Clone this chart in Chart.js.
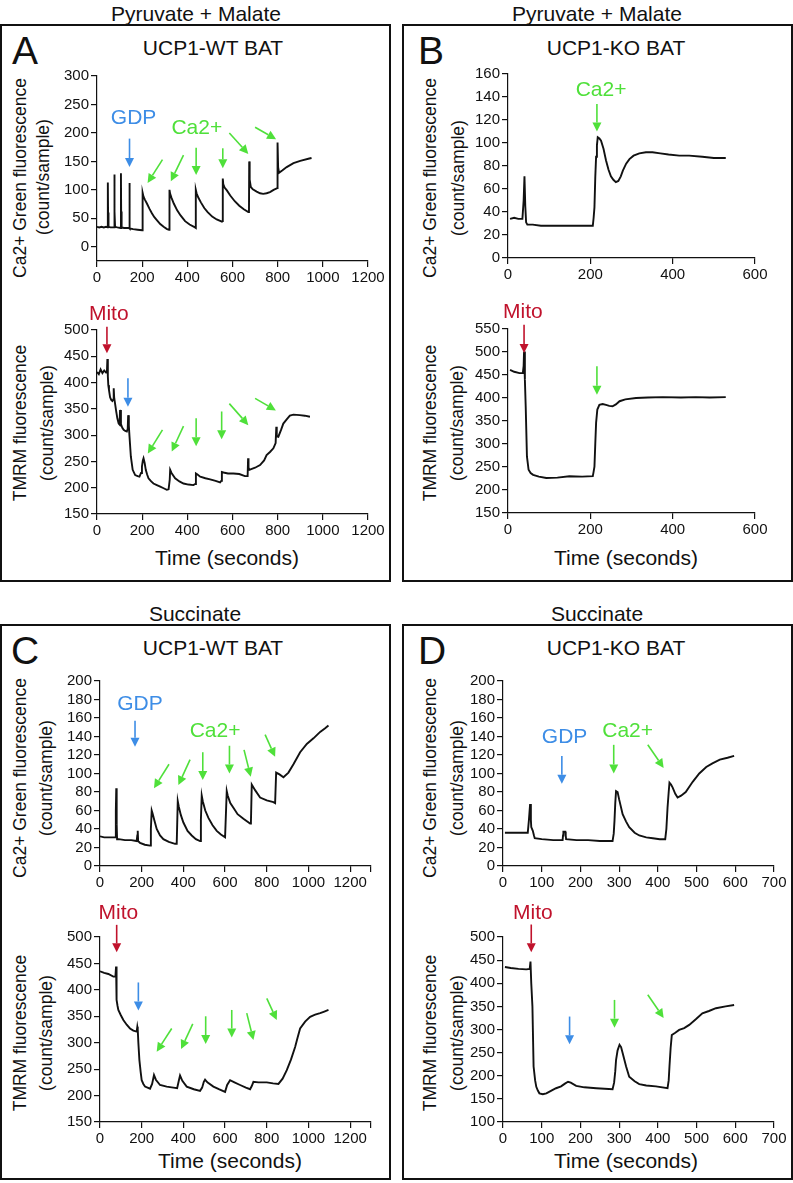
<!DOCTYPE html>
<html>
<head>
<meta charset="utf-8">
<script src="https://cdn.jsdelivr.net/npm/chart.js@4.4.1/dist/chart.umd.min.js"></script>
<style>
  body { margin: 0; background: #fff; }
  #page { position: relative; width: 793px; height: 1183px; overflow: hidden;
          font-family: "Liberation Sans", Arial, Helvetica, sans-serif; color: #111; }
  .box { position: absolute; border: 2.5px solid #111; box-sizing: border-box; }
  .txt { position: absolute; white-space: nowrap; line-height: 1; transform: translate(-50%, -50%); }
  .rot { transform: translate(-50%, -50%) rotate(-90deg); }
  canvas { position: absolute; }
</style>
</head>
<body>
<div id="page"></div>
<script>
// ---- A: pyruvate + malate, UCP1-WT ----
const aCaTime = [
  0, 10, 20, 30, 40, 47, 48, 49, 51, 60,
  76, 77, 78, 80, 90, 105, 106, 107, 109, 120,
  142, 143, 144, 146, 160, 180, 200, 202, 206, 213,
  221, 232, 243, 254, 265, 280, 295, 310, 319, 321,
  324, 330, 340, 355, 370, 390, 410, 434, 437, 438,
  441, 448, 460, 475, 490, 510, 530, 553, 556, 557,
  559, 565, 575, 590, 610, 630, 650, 670, 673, 674,
  676, 681, 690, 707, 722, 736, 751, 766, 782, 798,
  799, 800, 802, 806, 820, 840, 870, 900, 940, 950];
const aCaValue = [
  35, 34, 35, 34, 35, 34, 113, 60, 35, 34,
  34, 127, 62, 35, 34, 33, 129, 62, 34, 33,
  33, 112, 58, 32, 31, 30, 29, 95, 88, 82,
  76, 67, 59, 52, 47, 40, 35, 31, 30, 100,
  93, 86, 76, 64, 55, 45, 39, 34, 33, 100,
  94, 87, 78, 68, 61, 53, 48, 44, 45, 120,
  110, 104, 99, 90, 80, 72, 66, 61, 62, 150,
  118, 105, 101, 97, 94, 93, 94, 96, 100, 103,
  104, 183, 140, 130, 134, 140, 147, 151, 155, 156];
const aTmrmTime = [
  0, 8, 16, 24, 32, 40, 44, 46, 48, 50,
  53, 58, 63, 68, 72, 74, 76, 80, 85, 90,
  96, 100, 102, 106, 112, 118, 125, 132, 136, 138,
  141, 144, 150, 158, 169, 180, 188, 195, 199, 203,
  206, 211, 216, 222, 228, 240, 250, 265, 280, 295,
  309, 317, 322, 324, 330, 346, 365, 383, 405, 427,
  435, 438, 445, 457, 480, 501, 525, 545, 550, 553,
  560, 580, 604, 630, 655, 667, 669, 671, 675, 680,
  700, 722, 740, 751, 766, 781, 791, 794, 796, 803,
  815, 825, 840, 854, 870, 898, 920, 943];
const aTmrmValue = [
  420, 416, 425, 418, 423, 419, 421, 445, 412, 395,
  386, 372, 367, 365, 368, 389, 372, 360, 345, 332,
  322, 320, 348, 321, 314, 310, 308, 307, 312, 338,
  318, 297, 259, 234, 224, 222, 221, 228, 240, 252,
  256, 247, 234, 225, 218, 212, 208, 205, 202, 199,
  196, 197, 215, 234, 228, 218, 212, 208, 206, 205,
  207, 227, 225, 221, 218, 216, 213, 210, 213, 230,
  229, 227, 227, 226, 222, 222, 256, 238, 234, 235,
  238, 243, 252, 262, 268, 275, 285, 316, 298, 297,
  310, 322, 330, 337, 339, 338, 337, 335];

// ---- B: pyruvate + malate, UCP1-KO ----
const bCaTime = [
  5, 15, 25, 35, 38, 40, 42, 44, 47, 60,
  80, 100, 120, 140, 160, 180, 200, 206, 208, 210,
  212, 214, 216, 218, 222, 226, 232, 238, 244, 250,
  256, 262, 268, 274, 279, 287, 295, 305, 319, 335,
  351, 370, 390, 416, 440, 472, 500, 529];
const bCaValue = [
  34, 35, 34, 34, 50, 71, 45, 31, 29, 29,
  28, 28, 28, 28, 28, 28, 28, 28, 35, 44,
  70, 88, 98, 105, 104, 102, 95, 85, 77, 71,
  68, 66, 67, 71, 76, 82, 86, 89, 91, 92,
  92, 91, 90, 89, 89, 88, 87, 87];
const bTmrmTime = [
  5, 15, 28, 36, 38, 39, 41, 43, 46, 50,
  55, 61, 75, 93, 120, 149, 180, 206, 208, 210,
  212, 214, 217, 222, 230, 238, 246, 254, 262, 271,
  285, 311, 340, 376, 420, 456, 490, 529];
const bTmrmValue = [
  461, 457, 454, 454, 470, 501, 440, 382, 273, 244,
  237, 233, 229, 226, 227, 230, 229, 230, 240, 251,
  300, 346, 375, 385, 387, 385, 383, 382, 386, 393,
  397, 400, 401, 402, 401, 402, 401, 402];

// ---- C: succinate, UCP1-WT ----
const cCaTime = [
  0, 20, 40, 60, 72, 76, 78, 80, 82, 90,
  120, 150, 176, 179, 181, 183, 192, 215, 240, 244,
  248, 252, 260, 272, 288, 304, 330, 360, 368, 373,
  378, 388, 400, 420, 440, 460, 480, 484, 488, 493,
  505, 520, 540, 560, 580, 600, 604, 608, 613, 625,
  640, 660, 688, 720, 724, 728, 744, 768, 800, 832,
  840, 845, 861, 880, 904, 928, 960, 992, 1024, 1056,
  1080, 1096];
const cCaValue = [
  32, 31, 31, 31, 31, 60, 84, 45, 29, 29,
  28, 28, 27, 33, 38, 27, 25, 23, 22, 40,
  60, 57, 50, 40, 33, 29, 26, 24, 24, 70,
  64, 55, 47, 38, 33, 29, 27, 50, 76, 70,
  60, 52, 44, 38, 34, 31, 31, 81, 76, 68,
  63, 56, 51, 46, 47, 88, 82, 74, 71, 69,
  68, 101, 99, 96, 101, 110, 123, 132, 138, 145,
  149, 152];
const cTmrmTime = [
  0, 20, 40, 64, 74, 77, 79, 80, 84, 88,
  100, 112, 128, 144, 160, 176, 179, 181, 184, 189,
  195, 200, 208, 216, 240, 250, 259, 268, 288, 320,
  352, 370, 378, 384, 395, 416, 450, 480, 490, 498,
  504, 515, 544, 570, 600, 610, 624, 645, 672, 700,
  720, 728, 736, 760, 800, 830, 856, 876, 896, 916,
  936, 948, 960, 984, 1008, 1032, 1056, 1076, 1096];
const cTmrmValue = [
  435, 432, 430, 425, 425, 444, 400, 381, 370, 362,
  352, 343, 334, 327, 323, 321, 330, 325, 300, 267,
  245, 229, 222, 217, 213, 222, 239, 230, 220, 217,
  215, 214, 228, 238, 228, 217, 212, 209, 215, 226,
  230, 225, 217, 212, 207, 220, 229, 225, 220, 215,
  212, 218, 226, 225, 225, 223, 222, 232, 248, 268,
  292, 310, 327, 340, 349, 353, 356, 359, 362];

// ---- D: succinate, UCP1-KO ----
const dCaTime = [
  5, 20, 40, 64, 67, 70, 72, 73, 77, 80,
  82, 100, 130, 154, 155, 156, 161, 162, 163, 190,
  220, 250, 283, 286, 288, 290, 292, 296, 300, 309,
  318, 326, 340, 352, 370, 387, 405, 419, 422, 425,
  428, 430, 434, 438, 445, 451, 460, 472, 490, 507,
  525, 541, 560, 580, 597];
const dCaValue = [
  36, 36, 36, 36, 50, 67, 50, 42, 38, 33,
  30, 29, 28, 28, 33, 37, 37, 33, 29, 28,
  28, 27, 27, 35, 49, 68, 81, 80, 72, 56,
  48, 42, 36, 33, 31, 30, 29, 29, 40, 63,
  80, 90, 88, 85, 78, 74, 76, 80, 91, 100,
  107, 111, 115, 117, 119];
const dTmrmTime = [
  5, 20, 40, 60, 69, 71, 73, 76, 79, 83,
  86, 90, 94, 103, 112, 125, 137, 150, 160, 168,
  175, 189, 210, 241, 283, 287, 290, 292, 296, 301,
  305, 309, 318, 326, 340, 352, 370, 395, 425, 428,
  430, 433, 436, 445, 455, 468, 481, 498, 515, 532,
  550, 575, 597];
const dTmrmValue = [
  435, 433, 431, 430, 431, 447, 400, 350, 220, 190,
  176, 168, 162, 160, 162, 168, 173, 177, 183, 187,
  185, 178, 175, 173, 171, 185, 210, 234, 255, 267,
  262, 249, 220, 198, 188, 182, 179, 177, 173, 190,
  220, 260, 288, 293, 299, 303, 310, 322, 335, 340,
  346, 350, 353];

// ---- tick values ----
const aCaYTicks = [0, 50, 100, 150, 200, 250, 300];
const aTmrmYTicks = [150, 200, 250, 300, 350, 400, 450, 500];
const aXTicks = [0, 200, 400, 600, 800, 1000, 1200];
const bCaYTicks = [0, 20, 40, 60, 80, 100, 120, 140, 160];
const bTmrmYTicks = [150, 200, 250, 300, 350, 400, 450, 500, 550];
const bXTicks = [0, 200, 400, 600];
const cCaYTicks = [0, 20, 40, 60, 80, 100, 120, 140, 160, 180, 200];
const cTmrmYTicks = [150, 200, 250, 300, 350, 400, 450, 500];
const cXTicks = [0, 200, 400, 600, 800, 1000, 1200, 1300];
const cXTickLabels = ['0', '200', '400', '600', '800', '1000', '1200', ''];
const dCaYTicks = [0, 20, 40, 60, 80, 100, 120, 140, 160, 180, 200];
const dTmrmYTicks = [100, 150, 200, 250, 300, 350, 400, 450, 500];
const dXTicks = [0, 100, 200, 300, 400, 500, 600, 700];

// ---- additions: [kind, fromTime, fromValue, toTime, toValue] ----
const aCaArrows = [
  ['gdp', 144, 190, 144, 140],
  ['ca', 290, 153, 224, 112], ['ca', 383, 161, 327, 115], ['ca', 439, 174, 439, 126],
  ['ca', 557, 173, 557, 138], ['ca', 586, 200, 670, 163], ['ca', 700, 210, 793, 189]];
const aCaLabels = [['gdp', 'GDP', 162, 225], ['ca', 'Ca2+', 442, 208]];
const aTmrmArrows = [
  ['mito', 44, 506, 44, 456], ['gdp', 137, 408, 137, 354],
  ['ca', 290, 310, 225, 265], ['ca', 383, 317, 331, 269], ['ca', 439, 332, 439, 279],
  ['ca', 552, 345, 552, 292], ['ca', 586, 360, 670, 319], ['ca', 700, 370, 792, 347]];
const aTmrmLabels = [['mito', 'Mito', 52, 530]];
const bCaArrows = [['ca', 216, 134, 216, 110]];
const bCaLabels = [['ca', 'Ca2+', 226, 146]];
const bTmrmArrows = [['mito', 39, 559, 39, 498], ['ca', 216, 469, 216, 407]];
const bTmrmLabels = [['mito', 'Mito', 36, 586]];
const cCaArrows = [
  ['gdp', 168, 157, 168, 129],
  ['ca', 331, 110, 259, 84], ['ca', 432, 115, 376, 87.5], ['ca', 493, 123, 493, 93],
  ['ca', 621, 130, 621, 100], ['ca', 691, 125.5, 723, 96.6], ['ca', 792, 142, 840, 118]];
const cCaLabels = [['gdp', 'GDP', 192, 175], ['ca', 'Ca2+', 552, 146]];
const cTmrmArrows = [
  ['mito', 80, 523, 80, 471], ['gdp', 184, 414, 184, 361],
  ['ca', 344, 327, 272, 283], ['ca', 445, 335.5, 389, 288], ['ca', 507, 350, 507, 297.5],
  ['ca', 632, 362, 632, 310], ['ca', 704, 356, 736, 305], ['ca', 800, 384, 848, 343]];
const cTmrmLabels = [['mito', 'Mito', 88, 545]];
const dCaArrows = [['gdp', 152, 119, 152, 89], ['ca', 286, 131, 286, 100], ['ca', 374, 131, 415, 106]];
const dCaLabels = [['gdp', 'GDP', 159, 139], ['ca', 'Ca2+', 322, 146]];
const dTmrmArrows = [
  ['mito', 73, 527, 73, 467], ['gdp', 172, 328, 172, 268],
  ['ca', 288, 364, 288, 304], ['ca', 374, 375, 415, 325]];
const dTmrmLabels = [['mito', 'Mito', 77, 552]];

const FONT = '"Liberation Sans", Arial, Helvetica, sans-serif';
const COLORS = { ca: '#4fe03a', gdp: '#3d8de6', mito: '#c0122c' };
const page = document.getElementById('page');

function addText(text, cx, cy, size, rotated) {
  const d = document.createElement('div');
  d.className = rotated ? 'txt rot' : 'txt';
  d.textContent = text;
  d.style.left = cx + 'px';
  d.style.top = cy + 'px';
  d.style.fontSize = size + 'px';
  page.appendChild(d);
}

function addBox(left, top, w, h) {
  const d = document.createElement('div');
  d.className = 'box';
  Object.assign(d.style, { left: left + 'px', top: top + 'px', width: w + 'px', height: h + 'px' });
  page.appendChild(d);
}

// arrows and their labels, placed in data units through the chart scales
function marks(arrows, labels) {
  return {
    id: 'marks',
    afterDatasetsDraw(chart) {
      const { ctx } = chart;
      const sx = chart.scales.x, sy = chart.scales.y;
      ctx.save();
      arrows.forEach(([kind, t1, v1, t2, v2]) => {
        const x1 = sx.getPixelForValue(t1), y1 = sy.getPixelForValue(v1);
        const x2 = sx.getPixelForValue(t2), y2 = sy.getPixelForValue(v2);
        const ang = Math.atan2(y2 - y1, x2 - x1);
        const hl = 9, hw = 4.5;
        const bx = x2 - hl * Math.cos(ang), by = y2 - hl * Math.sin(ang);
        ctx.strokeStyle = ctx.fillStyle = COLORS[kind];
        ctx.lineWidth = 1.6;
        ctx.beginPath(); ctx.moveTo(x1, y1); ctx.lineTo(bx, by); ctx.stroke();
        ctx.beginPath(); ctx.moveTo(x2, y2);
        ctx.lineTo(bx + hw * Math.sin(ang), by - hw * Math.cos(ang));
        ctx.lineTo(bx - hw * Math.sin(ang), by + hw * Math.cos(ang));
        ctx.closePath(); ctx.fill();
      });
      ctx.font = '21px ' + FONT;
      ctx.textAlign = 'center';
      ctx.textBaseline = 'middle';
      labels.forEach(([kind, text, t, v]) => {
        ctx.fillStyle = COLORS[kind];
        ctx.fillText(text, sx.getPixelForValue(t), sy.getPixelForValue(v));
      });
      ctx.restore();
    }
  };
}

function axis(pos, min, max, ticks, tickLabels, size) {
  return {
    type: 'linear', position: pos, min, max,
    afterBuildTicks: s => { s.ticks = ticks.map(v => ({ value: v })); },
    afterFit: s => { if (pos === 'left') s.width = size; else s.height = size; },
    ticks: {
      font: { family: FONT, size: 15 }, color: '#111', padding: 2,
      maxRotation: 0, autoSkip: false,
      callback: (v, i) => tickLabels ? tickLabels[i] : String(v)
    },
    grid: { drawOnChartArea: false, drawTicks: true, tickLength: 6, color: '#111', lineWidth: 1.2 },
    border: { display: true, color: '#111', width: 1.2 }
  };
}

// box = canvas [left, top, right, bottom], area = plot area, both in page pixels
function plot(box, area, time, value, xr, xTicks, xLabels, yr, yTicks, arrows, labels) {
  const c = document.createElement('canvas');
  c.width = box[2] - box[0];
  c.height = box[3] - box[1];
  Object.assign(c.style, { left: box[0] + 'px', top: box[1] + 'px', width: c.width + 'px', height: c.height + 'px' });
  page.appendChild(c);
  new Chart(c, {
    type: 'line',
    data: {
      datasets: [{
        data: time.map((t, i) => ({ x: t, y: value[i] })),
        borderColor: '#111', borderWidth: 1.9, pointRadius: 0, tension: 0
      }]
    },
    options: {
      responsive: false, animation: false, devicePixelRatio: 1,
      layout: { padding: { left: 0, bottom: 0, top: area[1] - box[1], right: box[2] - area[2] } },
      plugins: { legend: { display: false }, tooltip: { enabled: false } },
      scales: {
        x: axis('bottom', xr[0], xr[1], xTicks, xLabels, box[3] - area[3]),
        y: axis('left', yr[0], yr[1], yTicks, null, area[0] - box[0])
      }
    },
    plugins: [marks(arrows, labels)]
  });
}

// frames and headings
addBox(0, 24, 391, 558);
addBox(402, 24, 391, 558);
addBox(0, 624, 391, 556);
addBox(402, 624, 391, 556);
addText('Pyruvate + Malate', 196, 13, 21);
addText('Pyruvate + Malate', 597, 13, 21);
addText('Succinate', 195, 613, 21);
addText('Succinate', 597, 613, 21);
addText('A', 25, 50, 39);
addText('B', 431, 50, 39);
addText('C', 25, 650, 39);
addText('D', 432, 650, 39);
addText('UCP1-WT BAT', 213, 47, 21);
addText('UCP1-KO BAT', 616, 47, 21);
addText('UCP1-WT BAT', 213, 647, 21);
addText('UCP1-KO BAT', 616, 647, 21);

// axis titles
addText('Ca2+ Green fluorescence', 21, 178, 17.5, true);
addText('(count/sample)', 44, 177, 17.5, true);
addText('TMRM fluorescence', 21, 423, 17.5, true);
addText('(count/sample)', 48, 423, 17.5, true);
addText('Ca2+ Green fluorescence', 431, 178, 17.5, true);
addText('(count/sample)', 459, 178, 17.5, true);
addText('TMRM fluorescence', 431, 423, 17.5, true);
addText('(count/sample)', 458, 423, 17.5, true);
addText('Ca2+ Green fluorescence', 21, 778, 17.5, true);
addText('(count/sample)', 47, 778, 17.5, true);
addText('TMRM fluorescence', 21, 1033, 17.5, true);
addText('(count/sample)', 47, 1033, 17.5, true);
addText('Ca2+ Green fluorescence', 431, 778, 17.5, true);
addText('(count/sample)', 458, 778, 17.5, true);
addText('TMRM fluorescence', 431, 1033, 17.5, true);
addText('(count/sample)', 458, 1033, 17.5, true);
addText('Time (seconds)', 227, 557, 21);
addText('Time (seconds)', 626, 557, 21);
addText('Time (seconds)', 230, 1160, 21);
addText('Time (seconds)', 626, 1160, 21);

// charts
plot([3, 60, 388, 290], [97, 76, 368, 261], aCaTime, aCaValue, [0, 1200], aXTicks, null, [-25, 300], aCaYTicks, aCaArrows, aCaLabels);
plot([3, 295, 388, 545], [97, 330, 368, 514], aTmrmTime, aTmrmValue, [0, 1200], aXTicks, null, [150, 500], aTmrmYTicks, aTmrmArrows, aTmrmLabels);
plot([405, 60, 790, 290], [508, 74, 755, 258], bCaTime, bCaValue, [0, 600], bXTicks, null, [0, 160], bCaYTicks, bCaArrows, bCaLabels);
plot([405, 295, 790, 545], [508, 329, 755, 513], bTmrmTime, bTmrmValue, [0, 600], bXTicks, null, [150, 550], bTmrmYTicks, bTmrmArrows, bTmrmLabels);
plot([3, 660, 388, 895], [100, 681, 371, 866], cCaTime, cCaValue, [0, 1300], cXTicks, cXTickLabels, [0, 200], cCaYTicks, cCaArrows, cCaLabels);
plot([3, 900, 388, 1145], [100, 937, 371, 1122], cTmrmTime, cTmrmValue, [0, 1300], cXTicks, cXTickLabels, [150, 500], cTmrmYTicks, cTmrmArrows, cTmrmLabels);
plot([405, 660, 790, 895], [503, 681, 774, 866], dCaTime, dCaValue, [0, 700], dXTicks, null, [0, 200], dCaYTicks, dCaArrows, dCaLabels);
plot([405, 900, 790, 1145], [503, 937, 774, 1122], dTmrmTime, dTmrmValue, [0, 700], dXTicks, null, [100, 500], dTmrmYTicks, dTmrmArrows, dTmrmLabels);
</script>
</body>
</html>
